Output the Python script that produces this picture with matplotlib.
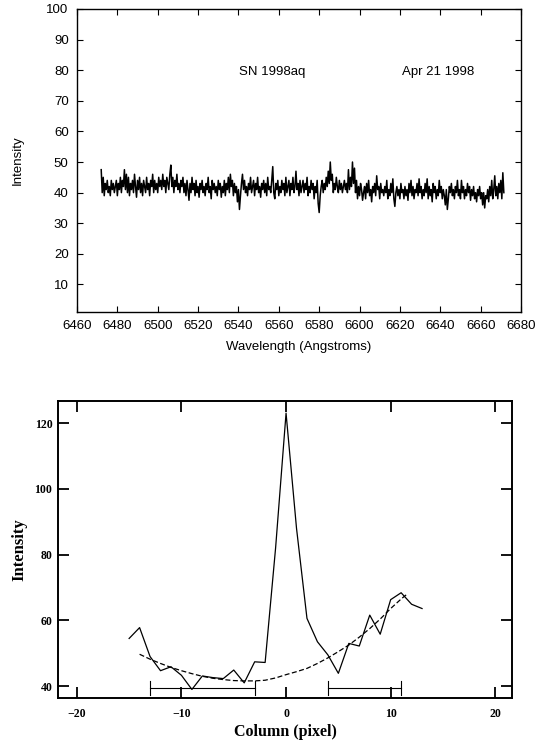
"""
SN 1998aq spectrum (top) and spatial profile across the slit (bottom).
"""

import numpy as np
import matplotlib.pyplot as plt

# ============================================================
# DATA
# ============================================================
WL_START = 6472.0       # first wavelength sample (Angstroms)
WL_END = 6671.5         # last wavelength sample (Angstroms)

spec_intensity = [
    47.5, 40, 45, 39, 43, 41, 44, 40, 42, 39, 44, 41, 43, 40, 42, 44, 39, 43, 41, 45,
    40, 44, 42, 47.5, 41, 46, 40, 45, 39, 43, 41, 44, 40, 46, 42, 38.5, 44, 41, 45, 40,
    43, 39, 44, 42, 40, 45, 41, 43, 39, 44, 42, 46, 40, 44, 41, 43, 40, 45, 42, 44,
    41, 46, 42, 44, 40, 45, 43, 41, 46, 49, 42, 45, 40, 44, 42, 46, 41, 43, 40, 44,
    42, 45, 40, 43, 39, 44, 41, 37.5, 43, 40, 45, 41, 43, 39, 44, 40, 42, 38.5, 43, 41,
    44, 40, 42, 39, 43, 41, 45, 40, 42, 38, 44, 41, 43, 40, 42, 39, 44, 41, 43, 38.5,
    42, 40, 44, 39, 43, 41, 45, 40, 46, 42, 44, 39, 43, 40, 42, 37, 41, 34.5, 39, 43,
    46, 41, 44, 40, 42, 39, 43, 41, 45, 40, 42, 44, 39, 43, 41, 45, 40, 42, 38.5, 43,
    41, 44, 40, 43, 39, 45, 41, 42, 40, 44, 48.5, 40, 38, 43, 41, 44, 39, 42, 40, 44,
    41, 43, 39, 45, 40, 42, 44, 39, 43, 41, 45, 40, 42, 47, 41, 43, 39, 44, 40, 42,
    44, 40, 43, 41, 45, 39, 42, 40, 44, 41, 43, 38, 42, 40, 44, 36.5, 33.5, 39, 42, 44,
    40, 43, 41, 45, 42, 47, 43, 50, 44, 46, 40, 43, 41, 45, 42, 40, 44, 41, 43, 40,
    42, 44, 41, 43, 40, 47.5, 41, 45, 42, 50, 43, 48, 40, 44, 38, 42, 39, 43, 41, 37.5,
    40, 42, 38, 43, 40, 44, 39, 41, 37, 42, 40, 43, 39, 45.5, 41, 42, 38, 43, 40, 41,
    39, 42, 40, 44, 38, 41, 39, 43, 40, 44.5, 38, 35.5, 40, 42, 39, 41, 38, 43, 40, 41,
    38, 42, 39, 41, 37.5, 43, 40, 44, 39, 42, 38, 41, 40, 43, 39, 44.5, 40, 42, 38, 41,
    39, 43, 40, 44.5, 38, 42, 39, 41, 37, 43, 40, 42, 38, 41, 39, 44, 40, 42, 38, 41,
    39, 36, 41, 34.5, 38, 42, 40, 43, 39, 41, 38, 42, 40, 44, 39, 41, 38, 44, 40, 42,
    38, 41, 39, 43, 40, 42, 37.5, 41, 39, 42, 38, 40, 37, 41, 39, 42, 38, 40, 36, 40,
    35, 39, 38, 41, 37, 42, 39, 44, 38, 41, 45.5, 39, 42, 38, 43, 40, 44, 38, 46.5, 40,
]

# spatial profile along the slit
profile_col = [-15, -14, -13, -12, -11, -10, -9, -8, -7, -6, -5, -4, -3, -2, -1,
               0, 1, 2, 3, 4, 5, 6, 7, 8, 9, 10, 11, 12, 13]
profile_int = [54.5, 57.8, 49.0, 44.7, 45.9, 43.3, 39.0, 43.1, 42.6, 42.3, 44.9, 41.0,
               47.4, 47.2, 82.0, 123.0, 88.0, 60.6, 53.5, 49.5, 43.9, 53.0, 52.2,
               61.6, 55.8, 66.3, 68.4, 64.9, 63.6]

# background fit (dashed)
bg_col = [-14, -13, -12, -11, -10, -9, -8, -7, -6, -5, -4, -3, -2, -1,
          0, 1, 2, 3, 4, 5, 6, 7, 8, 9, 10, 11, 11.5]
bg_int = [49.7, 48.2, 46.9, 45.7, 44.7, 43.8, 43.0, 42.4, 42.0, 41.7, 41.6, 41.6,
          41.8, 42.5, 43.5, 44.4, 45.4, 46.9, 48.6, 50.5, 52.5, 54.9, 57.5, 60.4,
          63.6, 66.5, 67.8]

# background windows
bg_windows = [(-13, -3), (4, 11)]
bg_window_level = 39.5

# ============================================================
# FIGURE
# ============================================================
fig = plt.figure(figsize=(5.38, 7.42), dpi=100)

# ---- top panel: spectrum ----
sans = 'Liberation Sans'
ax1 = fig.add_axes([0.1431, 0.5795, 0.8253, 0.4084])
wl = np.linspace(WL_START, WL_END, len(spec_intensity))
ax1.plot(wl, spec_intensity, color='black', linewidth=1.1)

ax1.set_xlim(6460, 6680)
ax1.set_ylim(1, 100)
ax1.set_xticks(np.arange(6460, 6681, 20))
ax1.set_yticks(np.arange(10, 101, 10))
ax1.tick_params(direction='in', length=4, width=0.8, top=True, right=True,
                labelsize=9.5, pad=6)
for lab in ax1.get_xticklabels() + ax1.get_yticklabels():
    lab.set_family(sans)
for sp in ax1.spines.values():
    sp.set_linewidth(1.0)

ax1.set_xlabel('Wavelength (Angstroms)', fontsize=9.5, family=sans, labelpad=6)
ax1.set_ylabel('Intensity', fontsize=9.5, family=sans, labelpad=16)

ax1.text(6540.5, 79.4, 'SN 1998aq', fontsize=9.5, family=sans, va='center')
ax1.text(6621, 79.4, 'Apr 21 1998', fontsize=9.5, family=sans, va='center')

# ---- bottom panel: slit profile ----
serif = 'Liberation Serif'
ax2 = fig.add_axes([0.1078, 0.0593, 0.8439, 0.4003])
ax2.plot(profile_col, profile_int, color='black', linewidth=0.9)
ax2.plot(bg_col, bg_int, color='black', linewidth=0.9, linestyle=(0, (4, 2)))

for lo, hi in bg_windows:
    ax2.plot([lo, hi], [bg_window_level, bg_window_level], color='black', linewidth=0.8)
    ax2.plot([lo, lo], [bg_window_level - 2.2, bg_window_level + 2.2],
             color='black', linewidth=0.8)
    ax2.plot([hi, hi], [bg_window_level - 2.2, bg_window_level + 2.2],
             color='black', linewidth=0.8)

ax2.set_xlim(-21.8, 21.6)
ax2.set_ylim(36.4, 126.7)
ax2.set_xticks([-20, -10, 0, 10, 20])
ax2.set_yticks([40, 60, 80, 100, 120])
ax2.tick_params(direction='in', length=8, width=1.3, top=True, right=True,
                labelsize=8.5, pad=4)
ax2.tick_params(axis='x', pad=7)
for lab in ax2.get_xticklabels() + ax2.get_yticklabels():
    lab.set_family(serif)
    lab.set_weight('bold')
for sp in ax2.spines.values():
    sp.set_linewidth(1.4)

ax2.set_xlabel('Column (pixel)', fontsize=11.5, family=serif, weight='bold', labelpad=3)
ax2.set_ylabel('Intensity', fontsize=12, family=serif, weight='bold', labelpad=5)

fig.savefig('out.png', dpi=100)
plt.close(fig)
